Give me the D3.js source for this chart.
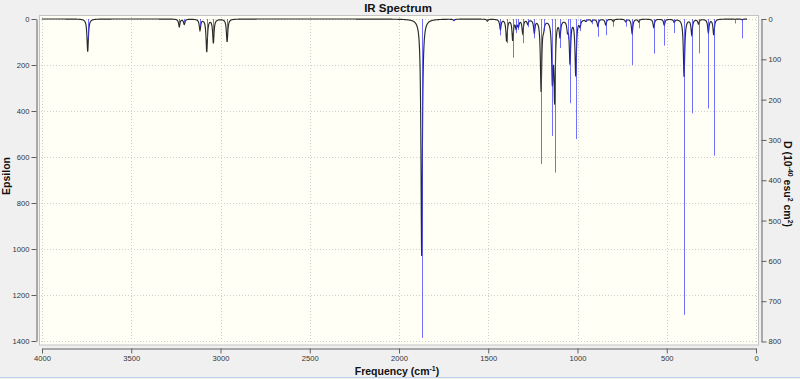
<!DOCTYPE html>
<html>
<head>
<meta charset="utf-8">
<script src="https://cdn.jsdelivr.net/npm/d3@7"></script>
<style>
  body { margin: 0; background: #f0f0f0; }
  svg { display: block; font-family: "Liberation Sans", Arial, sans-serif; }
  .tick text { font-size: 7.6px; fill: #333; }
  .axis path, .axis line { stroke: #606060; }
  .ttl { font-weight: bold; fill: #111; }
</style>
</head>
<body>
<svg width="800" height="379"></svg>
<script>
// peak frequencies (cm-1), stick dipole strengths D and curve epsilon heights
const freqs = [3744, 3231, 3203, 3115, 3077, 3040, 2963, 1873, 1692, 1505,
    1432, 1397, 1363, 1344, 1331, 1307, 1279, 1242, 1204, 1190, 1141, 1128,
    1098, 1056, 1042, 1010, 986, 954, 920, 886, 842, 799, 730, 694, 657, 573,
    514, 458, 403, 360, 322, 267, 237, 118, 78];
const dValues = [50, 12, 8, 17, 50, 37, 36, 791, 5, 7,
    41, 60, 96, 35, 27, 60, 20, 48, 360, 30, 290, 381,
    72, 50, 209, 298, 30, 8, 13, 44, 40, 19, 19, 114, 23, 86,
    66, 35, 734, 234, 85, 222, 339, 11, 48];
const epsPeaks = [142, 33, 23, 48, 142, 103, 99, 1030, 6, 8,
    44, 95, 90, 35, 27, 59, 19, 55, 310, 27, 250, 340,
    70, 40, 187, 243, 27, 7, 10, 30, 25, 11, 11, 62, 12, 36,
    26, 13, 251, 66, 20, 58, 68, 1, 3];
const halfWidth = 4.6; // lorentzian half width (cm-1)

const xTicks = d3.range(0, 4001, 500);
const epsTicks = d3.range(0, 1401, 200);
const dTicks = d3.range(0, 801, 100);

function drawIRChart() {
    let svg = d3.select("svg");

    let x = d3.scaleLinear().domain([4000, 0]).range([42, 756]);
    let yEps = d3.scaleLinear().domain([0, 1400]).range([19, 341]);
    let yD = d3.scaleLinear().domain([0, 800]).range([19, 341.5]);

    // plot area
    svg.append("rect")
        .attr("x", 39.5).attr("y", 15.5)
        .attr("width", 719).attr("height", 329.5)
        .attr("fill", "#fffff6")
        .attr("stroke", "#c4c4c4");

    // dotted grid
    let grid = svg.append("g").attr("stroke", "#cfcfcf").attr("stroke-dasharray", "1,2");
    grid.selectAll(".gx").data(xTicks).enter().append("line")
        .attr("x1", d => Math.round(x(d)) + 0.5).attr("x2", d => Math.round(x(d)) + 0.5)
        .attr("y1", 17).attr("y2", 344);
    grid.selectAll(".gy").data(epsTicks).enter().append("line")
        .attr("y1", d => Math.round(yEps(d)) + 0.5).attr("y2", d => Math.round(yEps(d)) + 0.5)
        .attr("x1", 41).attr("x2", 757);

    // broadened spectrum built from the peak list
    let samples = d3.range(4000, 49, -1).concat(freqs).sort((a, b) => b - a);
    let curve = samples.map(function (f) {
        let e = 0;
        freqs.forEach(function (p, i) {
            let dd = f - p;
            e += epsPeaks[i] * halfWidth * halfWidth / (dd * dd + halfWidth * halfWidth);
        });
        return [f, e];
    });

    let line = d3.line()
        .x(d => x(d[0]))
        .y(d => yEps(d[1]));

    svg.append("path")
        .datum(curve)
        .attr("d", line)
        .attr("fill", "none")
        .attr("stroke", "#2a2a2a")
        .attr("stroke-width", 1.15);

    // sticks
    svg.append("g").selectAll("line")
        .data(freqs)
        .enter()
        .append("line")
        .attr("x1", d => Math.round(x(d)) + 0.5)
        .attr("x2", d => Math.round(x(d)) + 0.5)
        .attr("y1", yD(0))
        .attr("y2", (d, i) => yD(dValues[i]))
        .attr("stroke", "#3535ff")
        .attr("stroke-opacity", 0.7)
        .attr("stroke-width", 1);

    // axes
    let bottom = svg.append("g").attr("class", "axis").attr("transform", "translate(0,348.5)");
    bottom.call(d3.axisBottom(x).tickValues(d3.range(0, 4001, 50)).tickSize(3).tickSizeOuter(0).tickFormat(""));
    bottom.call(d3.axisBottom(x).tickValues(xTicks).tickSize(5).tickSizeOuter(0).tickPadding(2).tickFormat(d3.format("d")));

    let left = svg.append("g").attr("class", "axis").attr("transform", "translate(36.5,0)");
    left.call(d3.axisLeft(yEps).tickValues(d3.range(0, 1401, 100)).tickSize(3).tickSizeOuter(0).tickFormat(""));
    left.call(d3.axisLeft(yEps).tickValues(epsTicks).tickSize(5).tickSizeOuter(0).tickPadding(2).tickFormat(d3.format("d")));

    let right = svg.append("g").attr("class", "axis").attr("transform", "translate(761.5,0)");
    right.call(d3.axisRight(yD).tickValues(d3.range(0, 801, 50)).tickSize(3).tickSizeOuter(0).tickFormat(""));
    right.call(d3.axisRight(yD).tickValues(dTicks).tickSize(5).tickSizeOuter(0).tickPadding(2).tickFormat(d3.format("d")));

    // titles
    svg.append("text").attr("class", "ttl")
        .attr("x", 398).attr("y", 12)
        .attr("text-anchor", "middle")
        .style("font-size", "11.5px")
        .text("IR Spectrum");

    svg.append("text").attr("class", "ttl")
        .attr("transform", "translate(9.5,176) rotate(-90)")
        .attr("text-anchor", "middle")
        .style("font-size", "10.5px")
        .text("Epsilon");

    let xl = svg.append("text").attr("class", "ttl")
        .attr("x", 397).attr("y", 375)
        .attr("text-anchor", "middle")
        .style("font-size", "10.5px");
    xl.append("tspan").text("Frequency (cm");
    xl.append("tspan").attr("dy", -4).style("font-size", "7px").text("-1");
    xl.append("tspan").attr("dy", 4).text(")");

    let rl = svg.append("text").attr("class", "ttl")
        .attr("transform", "translate(784,184) rotate(90)")
        .attr("text-anchor", "middle")
        .style("font-size", "10.5px");
    rl.append("tspan").text("D (10");
    rl.append("tspan").attr("dy", -4).style("font-size", "7px").text("-40");
    rl.append("tspan").attr("dy", 4).text(" esu");
    rl.append("tspan").attr("dy", -4).style("font-size", "7px").text("2");
    rl.append("tspan").attr("dy", 4).text(" cm");
    rl.append("tspan").attr("dy", -4).style("font-size", "7px").text("2");
    rl.append("tspan").attr("dy", 4).text(")");

    // window border line at bottom
    svg.append("line")
        .attr("x1", 0).attr("x2", 800)
        .attr("y1", 377.5).attr("y2", 377.5)
        .attr("stroke", "#b9d1ea");
}

drawIRChart();
</script>
</body>
</html>
